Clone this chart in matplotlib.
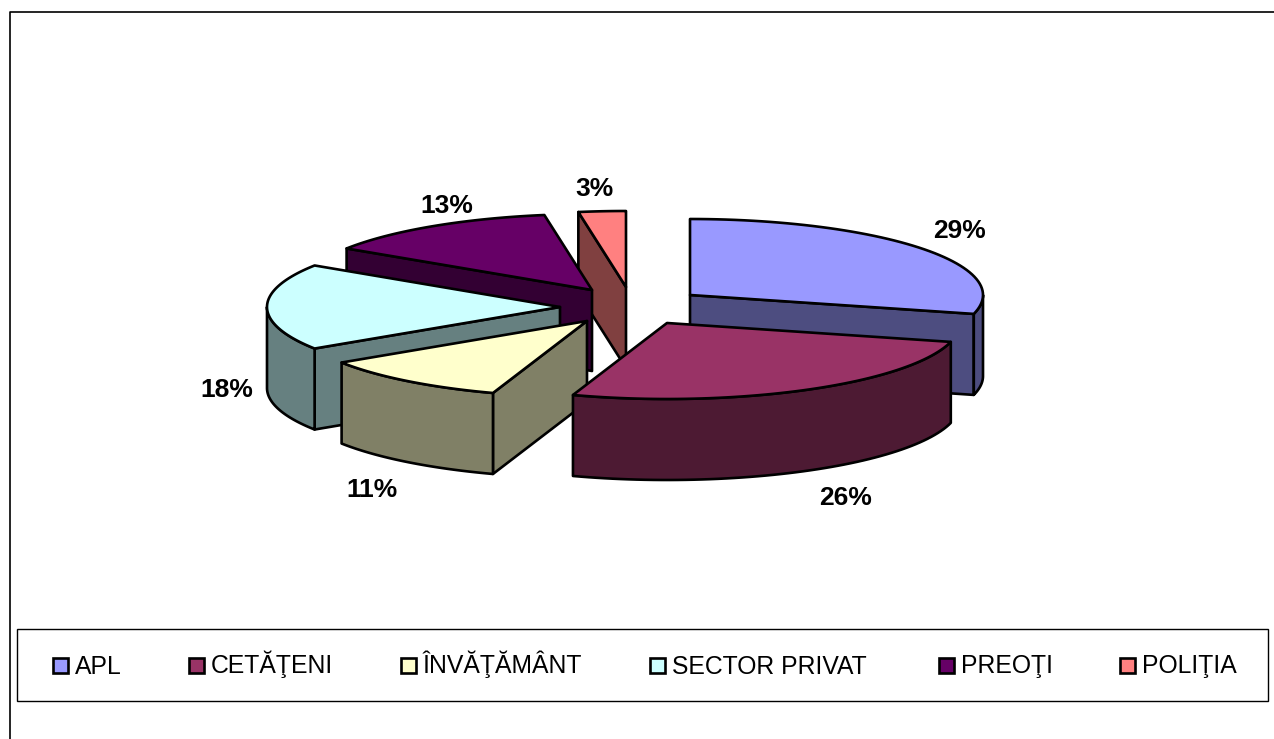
import numpy as np
from matplotlib import pyplot as plt
from matplotlib.patches import Polygon, Rectangle

#chart data
categories = ['APL', 'CETĂŢENI', 'ÎNVĂŢĂMÂNT', 'SECTOR PRIVAT', 'PREOŢI', 'POLIŢIA']
values = [29, 26.2, 10.6, 18.4, 13.2, 2.6]
percent_labels = ['29%', '26%', '11%', '18%', '13%', '3%']
top_colors = ['#9999FF', '#993366', '#FFFFCC', '#CCFFFF', '#660066', '#FF8080']
side_colors = ['#4D4D80', '#4D1A33', '#808066', '#668080', '#330033', '#804040']

#layout in pixels
apex = [(690, 295), (667, 323), (587, 321), (560, 307), (592, 290), (626, 287)]
label_pos = [(960, 238), (846, 505), (372, 497), (227, 397), (447, 213), (594, 196)]
legend_box_x = [53, 189, 401, 650, 939, 1120]
rx, ry, depth = 293, 76, 81
lw = 1.9


def rim(cx, cy, a1, a2, n=60):
    t = np.radians(np.linspace(a1, a2, n))
    return np.column_stack([cx + rx * np.sin(t), cy - ry * np.cos(t)])


fig = plt.figure(figsize=(12.74, 7.39), dpi=100)
ax = fig.add_axes([0, 0, 1, 1])
ax.set_xlim(0, 1274)
ax.set_ylim(739, 0)
ax.axis('off')

#outer chart frame, only left and top show
ax.plot([9.5, 9.5, 1274], [739, 12, 12], color='black', lw=1.2, solid_capstyle='butt')

#slice angles clockwise from 12 o'clock
edges = np.cumsum([0] + values) / sum(values) * 360

#painted back to front
for i in [5, 0, 4, 3, 2, 1]:
    a1, a2 = edges[i], edges[i + 1]
    cx, cy = apex[i]
    down = np.array([0, depth])
    top = rim(cx, cy, a1, a2)
    centre = np.array([cx, cy])

    #flat cut faces, only if they look toward the viewer
    for a, ok in [(a1, np.sin(np.radians(a1)) < -1e-6), (a2, np.sin(np.radians(a2)) > 1e-6)]:
        if ok:
            p = rim(cx, cy, a, a, 1)[0]
            ax.add_patch(Polygon([centre, p, p + down, centre + down], closed=True,
                                 fc=side_colors[i], ec='black', lw=lw, joinstyle='round'))

    #curved outer wall, front half of the ellipse
    w1, w2 = max(a1, 90), min(a2, 270)
    if w2 > w1:
        wall = rim(cx, cy, w1, w2)
        ax.add_patch(Polygon(np.vstack([wall, wall[::-1] + down]), closed=True,
                             fc=side_colors[i], ec='black', lw=lw, joinstyle='round'))

    ax.add_patch(Polygon(np.vstack([centre, top]), closed=True,
                         fc=top_colors[i], ec='black', lw=lw, joinstyle='round'))

    ax.text(label_pos[i][0], label_pos[i][1], percent_labels[i], family='Liberation Sans',
            fontweight='bold', fontsize=19, ha='center', va='baseline', color='black')

#legend
ax.add_patch(Rectangle((17, 629), 1251, 72, fc='white', ec='black', lw=1.0))
for x, name, col in zip(legend_box_x, categories, top_colors):
    ax.add_patch(Rectangle((x, 658), 15, 15, fc=col, ec='black', lw=1.9))
    ax.text(x + 22, 673.5, name, family='Liberation Sans', fontsize=17.8, ha='left',
            va='baseline', color='black')

fig.savefig('out.png', dpi=100)
